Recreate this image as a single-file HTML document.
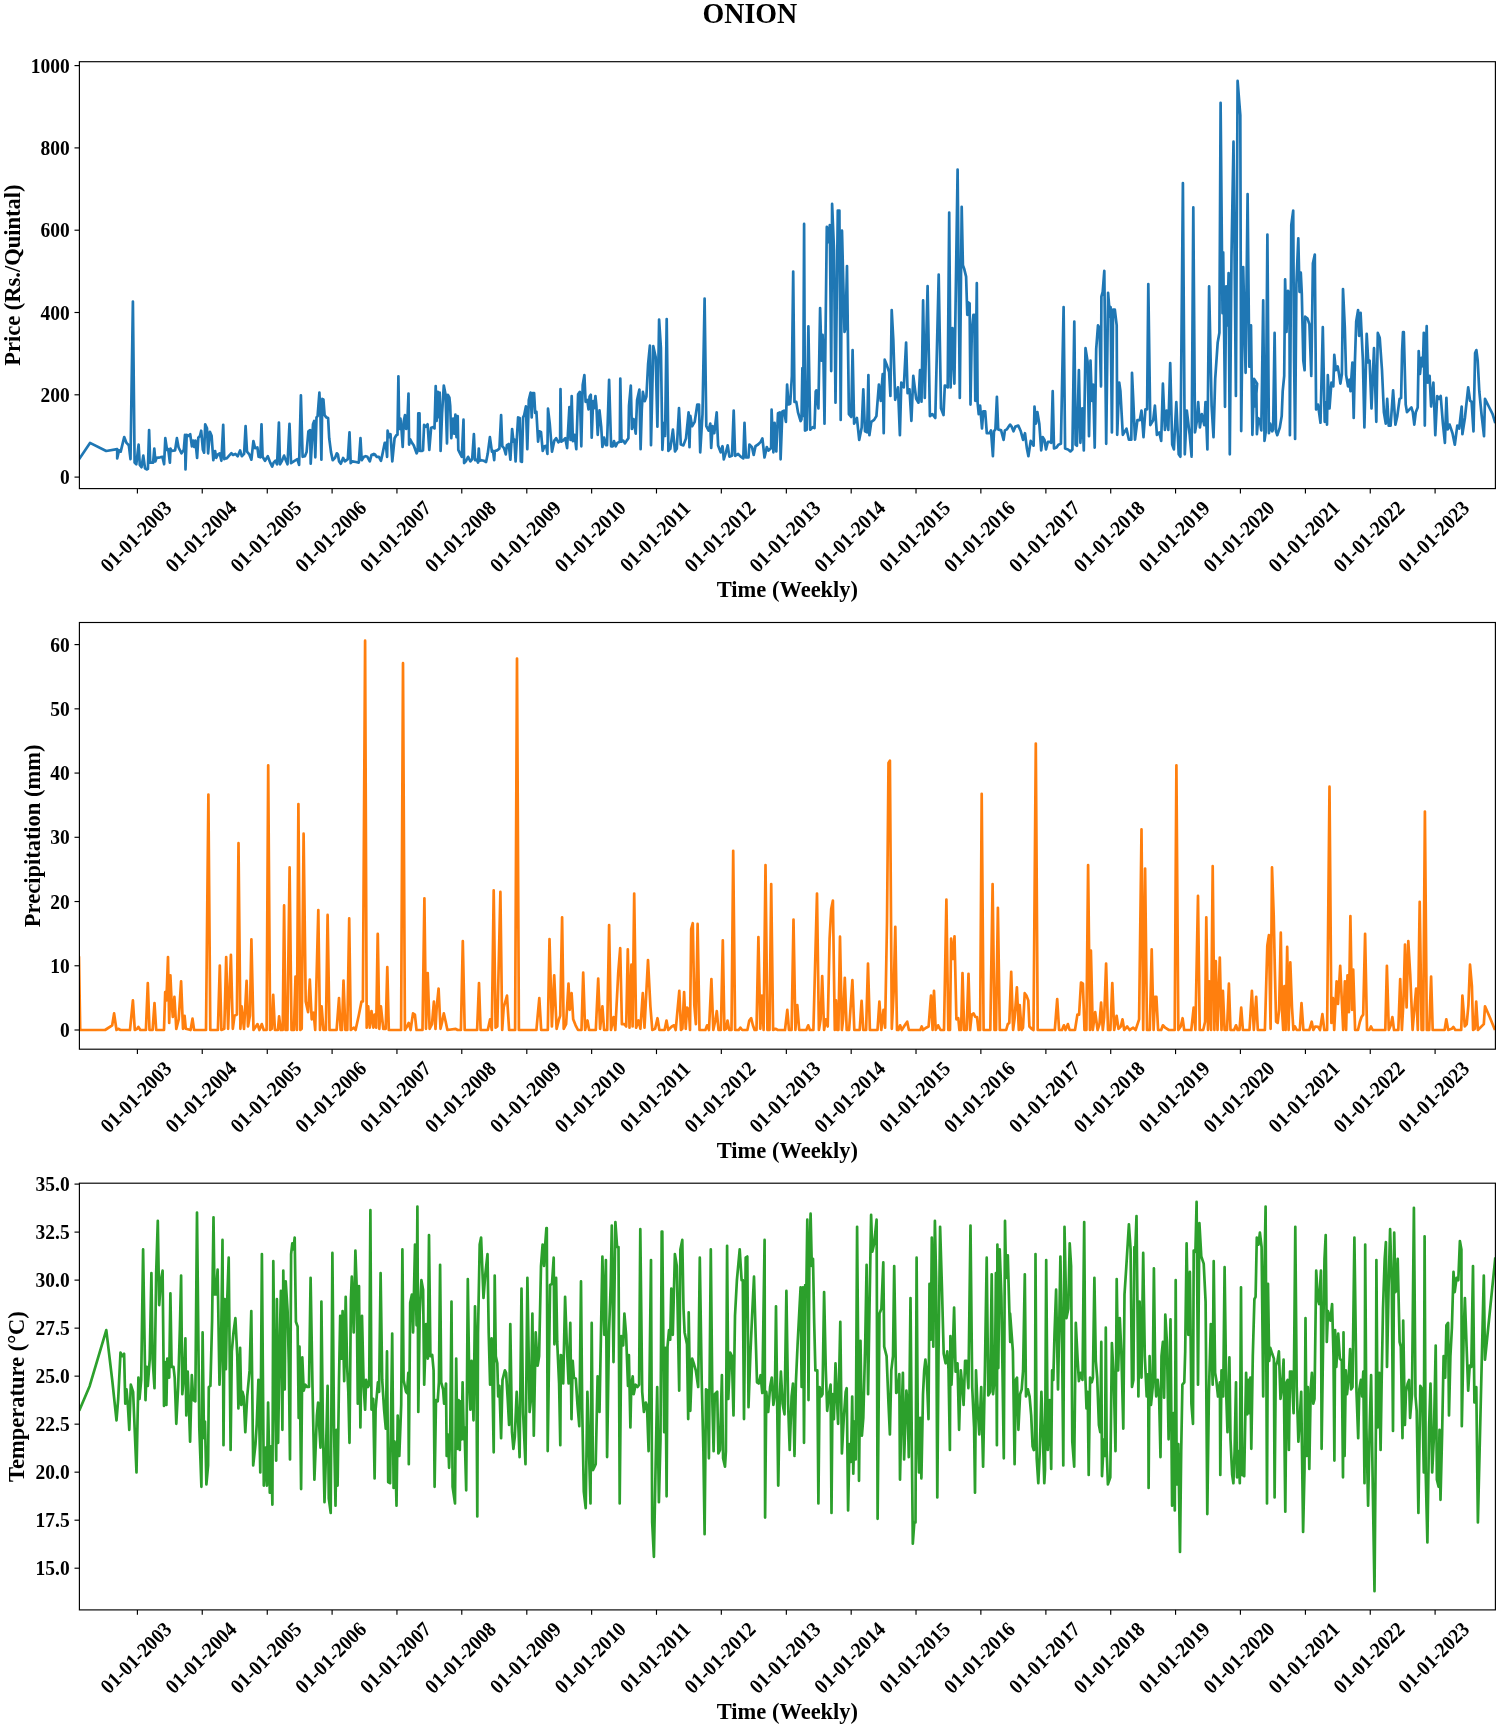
<!DOCTYPE html><html><head><meta charset="utf-8"><style>html,body{margin:0;padding:0;background:#fff;}svg{display:block;filter:blur(0.4px);}text{font-family:"Liberation Serif",serif;font-weight:bold;fill:#000;}</style></head><body>
<svg width="1499" height="1727" viewBox="0 0 1499 1727">
<rect x="0" y="0" width="1499" height="1727" fill="#fff"/>
<text transform="translate(749.9 22.8) scale(1 1.07)" font-size="28.0" text-anchor="middle">ONION</text>
<clipPath id="c0"><rect x="79.4" y="61.7" width="1416.0" height="426.90000000000003"/></clipPath>
<path d="M79.6,458.5 L90.0,442.9 L106.2,451.0 L117.2,449.2 L117.2,458.5 L119.0,450.4 L120.7,451.6 L124.2,437.1 L126.5,442.9 L128.8,445.2 L130.5,459.1 L132.9,301.6 L134.6,462.6 L136.3,464.3 L138.6,444.6 L139.8,464.9 L141.5,467.2 L143.3,455.6 L145.0,468.3 L146.7,469.5 L147.9,468.9 L149.1,430.1 L150.2,462.6 L153.1,462.6 L154.3,448.7 L155.4,461.4 L156.6,457.9 L160.1,457.3 L162.4,456.8 L164.1,464.3 L165.3,438.2 L167.0,449.8 L168.2,449.2 L169.9,462.6 L170.5,448.7 L171.6,451.0 L175.1,450.4 L176.9,438.2 L178.6,447.5 L181.5,453.3 L183.8,449.8 L185.0,434.8 L185.5,469.5 L186.7,434.8 L188.4,435.9 L190.2,434.2 L191.9,446.3 L193.1,440.6 L194.2,446.9 L195.4,440.6 L197.1,457.9 L198.3,437.7 L200.0,435.9 L201.2,430.7 L202.9,449.8 L204.1,452.7 L205.2,424.3 L207.0,428.4 L208.1,453.3 L209.9,431.9 L211.6,435.9 L213.3,460.2 L215.1,451.0 L216.2,457.9 L218.0,454.4 L219.7,453.3 L221.4,460.8 L223.2,424.9 L224.3,459.1 L226.7,457.9 L226.7,458.5 L229.1,455.6 L231.4,453.3 L233.1,455.0 L235.4,453.9 L237.7,456.2 L240.1,450.4 L241.8,456.2 L244.1,453.9 L245.6,426.1 L247.0,451.6 L249.3,454.4 L251.4,459.7 L253.4,441.1 L255.1,448.1 L257.4,447.5 L258.6,456.8 L260.3,457.3 L261.5,424.3 L262.6,456.8 L265.0,460.8 L267.8,456.2 L270.2,462.6 L272.2,466.6 L273.6,462.6 L275.4,460.8 L277.1,464.3 L278.9,422.6 L280.0,464.3 L281.7,461.4 L284.1,455.6 L285.8,460.2 L287.5,464.3 L289.5,423.8 L291.0,463.1 L294.5,460.8 L297.4,459.1 L299.1,464.9 L300.9,395.4 L302.6,456.8 L304.9,456.2 L306.6,452.1 L308.4,431.3 L310.1,430.1 L310.7,463.7 L313.0,424.3 L314.2,420.9 L315.3,457.3 L316.5,417.4 L317.6,416.2 L319.4,392.5 L320.5,417.4 L321.4,459.7 L322.3,398.9 L323.4,399.4 L324.6,415.1 L326.3,417.4 L328.1,418.0 L329.2,438.2 L331.0,452.1 L332.7,460.2 L335.0,457.9 L336.8,453.3 L337.9,454.4 L339.1,461.4 L340.8,463.7 L343.1,457.9 L344.9,461.4 L347.8,459.1 L349.5,432.4 L350.7,463.1 L352.4,461.4 L355.9,462.0 L358.8,462.6 L360.5,438.2 L361.7,460.2 L364.0,456.8 L365.7,456.2 L367.4,456.8 L369.8,461.4 L371.5,455.0 L373.8,453.9 L373.7,455.0 L374.9,454.4 L376.6,456.8 L378.9,456.8 L381.0,460.8 L382.4,454.4 L384.7,442.9 L385.7,442.9 L387.1,456.8 L387.6,430.7 L389.1,437.1 L390.5,434.2 L392.3,461.4 L394.6,438.2 L396.3,435.3 L397.5,434.8 L398.4,376.3 L399.2,429.0 L400.4,418.5 L401.5,429.0 L402.7,446.9 L403.8,420.9 L405.0,415.1 L406.2,429.0 L407.3,423.2 L408.5,393.6 L409.1,444.6 L410.2,439.4 L412.0,442.9 L413.7,445.2 L416.6,453.3 L417.7,451.0 L418.3,413.3 L419.5,413.3 L420.1,451.0 L421.8,451.0 L423.0,450.4 L424.1,424.9 L425.9,426.7 L427.6,424.3 L429.3,449.8 L431.1,427.8 L432.8,427.2 L434.5,428.4 L435.7,386.1 L436.6,420.9 L437.8,391.9 L439.2,417.4 L439.7,392.5 L440.6,451.0 L442.1,412.8 L443.8,385.5 L445.5,394.2 L447.0,443.4 L447.9,394.8 L449.4,397.7 L450.2,405.8 L451.3,438.2 L453.1,418.5 L454.2,433.6 L455.4,414.5 L456.5,437.1 L457.7,416.2 L458.3,449.8 L460.0,453.3 L461.8,456.8 L463.5,419.7 L464.1,463.1 L465.8,461.4 L468.1,456.8 L470.4,461.4 L472.2,459.1 L473.9,434.2 L475.1,460.2 L476.8,459.7 L478.0,462.6 L478.8,448.7 L479.7,460.8 L481.4,460.2 L483.8,460.8 L486.1,462.0 L487.8,453.3 L489.9,437.1 L491.9,451.6 L493.0,451.0 L494.2,460.2 L494.8,451.0 L497.1,450.4 L499.4,448.7 L501.1,415.1 L502.3,446.3 L504.0,448.1 L505.8,454.4 L506.9,445.2 L508.7,444.0 L510.4,459.7 L512.1,429.0 L513.5,441.7 L514.4,439.4 L515.6,461.4 L516.8,439.4 L518.1,417.4 L519.7,418.0 L520.8,461.4 L520.7,434.8 L521.9,462.0 L523.1,417.4 L524.2,415.1 L525.9,406.4 L527.3,449.2 L528.8,400.0 L530.6,392.5 L531.7,417.4 L532.7,393.1 L534.1,393.1 L535.2,412.8 L536.4,411.6 L538.1,441.7 L539.3,431.3 L541.0,431.9 L542.7,451.0 L544.5,446.3 L546.2,445.8 L547.4,453.9 L548.0,408.7 L549.7,423.2 L552.0,451.6 L554.3,440.6 L556.1,438.2 L558.4,442.3 L560.1,440.6 L560.5,389.0 L561.3,441.7 L563.0,440.6 L565.3,438.2 L567.1,448.1 L569.4,407.0 L570.5,440.0 L571.7,396.0 L572.9,441.1 L574.6,434.8 L576.3,449.2 L578.1,394.2 L579.8,391.9 L581.3,446.3 L582.7,385.0 L584.4,375.1 L585.6,401.8 L587.3,400.0 L588.5,409.3 L589.6,396.5 L590.8,394.8 L591.7,437.7 L593.1,401.2 L594.3,408.1 L595.4,396.0 L596.4,405.8 L597.7,434.8 L599.5,410.4 L601.2,426.7 L602.4,446.9 L604.1,437.7 L605.9,445.2 L607.0,445.2 L609.1,379.8 L611.1,446.3 L612.8,446.3 L614.0,441.1 L615.7,446.3 L617.4,442.9 L619.8,441.7 L620.3,378.6 L621.5,441.7 L623.2,440.6 L625.0,443.4 L626.7,440.6 L628.4,438.2 L629.0,405.8 L630.8,385.5 L631.9,429.0 L633.6,419.1 L635.7,433.6 L637.1,400.0 L639.4,389.6 L640.6,449.2 L641.8,409.3 L642.9,391.9 L644.7,401.2 L646.4,396.5 L648.1,364.1 L649.9,345.6 L651.0,445.2 L653.3,346.2 L655.7,357.2 L657.4,426.7 L659.1,319.5 L660.9,347.9 L662.4,449.8 L663.8,423.2 L665.1,435.9 L666.7,319.0 L668.4,451.0 L668.4,450.6 L670.3,448.8 L672.9,429.7 L675.0,451.4 L676.8,448.8 L679.0,408.0 L680.8,444.5 L683.4,445.4 L686.0,438.4 L688.6,412.4 L689.5,447.1 L690.3,415.8 L692.1,426.2 L694.7,421.9 L697.3,404.5 L699.0,404.5 L700.2,452.3 L702.5,414.1 L704.6,298.6 L706.3,426.2 L708.6,430.6 L710.3,423.6 L711.2,448.0 L712.6,426.2 L714.3,433.2 L716.7,412.4 L718.1,445.4 L720.7,452.3 L722.5,446.2 L723.8,459.3 L725.9,452.3 L727.7,445.4 L729.4,456.6 L732.0,455.8 L733.7,410.6 L735.1,455.8 L738.1,454.0 L740.7,456.6 L743.3,458.4 L744.5,422.8 L745.9,457.5 L748.5,457.5 L749.4,444.5 L752.0,447.1 L753.7,454.9 L755.5,446.2 L758.1,444.5 L760.7,441.9 L762.4,438.4 L764.5,457.5 L766.8,447.1 L768.5,450.6 L771.1,448.0 L771.6,409.7 L773.4,452.3 L774.6,422.8 L776.3,451.4 L778.0,413.2 L779.8,412.4 L780.6,459.3 L782.4,411.5 L784.1,410.6 L785.9,421.9 L787.1,384.6 L788.5,404.5 L790.2,403.7 L791.9,375.9 L793.2,271.6 L794.5,401.9 L796.3,401.9 L798.0,412.4 L800.6,421.0 L801.5,419.3 L802.4,368.1 L803.2,415.8 L804.1,223.9 L805.0,430.6 L806.7,429.7 L808.4,326.4 L810.2,429.7 L812.8,427.1 L814.5,428.0 L815.7,391.5 L816.4,390.3 L818.4,408.4 L820.1,308.1 L821.6,360.6 L822.6,334.8 L823.5,360.6 L824.5,423.7 L826.8,226.9 L828.3,242.2 L829.8,225.0 L831.2,371.1 L832.1,203.9 L834.0,249.8 L835.5,402.7 L837.8,210.6 L839.4,210.6 L840.7,419.9 L842.0,230.7 L844.5,332.0 L845.5,328.2 L847.0,266.1 L848.9,414.1 L851.2,417.0 L852.6,350.1 L854.1,423.7 L856.9,418.0 L859.2,439.9 L861.7,427.5 L863.3,389.3 L865.0,431.3 L867.1,432.3 L868.4,375.0 L869.4,435.2 L871.3,421.8 L874.1,419.9 L876.4,416.1 L878.9,384.5 L880.8,400.8 L882.7,374.0 L883.7,433.2 L884.7,359.7 L886.6,364.5 L889.1,372.1 L890.4,396.0 L891.7,310.0 L893.3,339.6 L895.2,399.8 L898.0,387.4 L899.9,435.2 L901.3,382.6 L903.8,387.4 L906.1,342.5 L907.6,393.1 L909.5,389.3 L911.4,420.8 L913.3,375.9 L916.2,398.9 L918.5,402.7 L920.0,370.2 L921.5,401.7 L923.1,300.4 L924.8,397.9 L927.6,286.1 L929.9,416.1 L932.4,414.1 L935.3,418.0 L938.7,274.6 L941.0,408.4 L943.5,415.1 L944.8,385.5 L947.7,387.4 L949.2,212.5 L950.6,387.4 L952.5,328.2 L954.4,383.6 L957.6,169.6 L959.8,397.9 L961.7,206.8 L962.9,265.1 L964.2,268.9 L966.1,276.6 L967.3,314.8 L968.2,302.4 L969.6,303.3 L970.5,404.6 L971.8,332.0 L973.4,314.8 L974.3,314.8 L975.3,400.8 L976.8,283.2 L977.6,402.7 L978.7,414.1 L980.1,405.5 L982.0,428.5 L983.3,411.3 L985.2,411.3 L986.8,433.2 L989.6,433.2 L991.0,430.4 L992.9,456.2 L994.0,431.3 L995.4,429.4 L996.9,396.9 L998.2,429.4 L1001.1,430.4 L1003.6,439.9 L1004.9,430.4 L1006.8,429.4 L1008.7,426.6 L1010.1,424.6 L1011.6,426.6 L1013.5,431.3 L1015.4,426.6 L1018.3,425.6 L1020.8,431.3 L1023.1,439.9 L1025.0,433.2 L1026.9,448.5 L1028.4,456.2 L1030.7,440.9 L1033.6,445.7 L1034.5,406.5 L1035.9,423.7 L1037.4,412.2 L1039.3,423.7 L1041.2,450.4 L1042.7,437.1 L1044.5,439.9 L1046.0,449.5 L1047.9,441.8 L1049.8,441.8 L1051.3,442.8 L1052.7,391.2 L1054.0,448.5 L1056.5,447.6 L1058.4,444.7 L1060.9,443.8 L1063.6,307.1 L1065.1,448.5 L1068.0,449.5 L1070.4,451.4 L1072.4,449.5 L1074.3,321.5 L1075.6,444.7 L1076.9,445.7 L1078.9,370.2 L1080.4,442.8 L1082.3,408.4 L1083.8,450.4 L1085.5,348.2 L1087.6,361.6 L1089.0,436.1 L1090.5,360.6 L1091.8,400.8 L1093.2,384.5 L1094.7,447.6 L1096.2,349.2 L1098.0,325.3 L1099.5,328.2 L1101.0,386.4 L1101.4,296.6 L1102.7,291.8 L1104.3,270.8 L1106.2,443.8 L1108.1,292.8 L1110.0,316.7 L1109.9,315.6 L1110.6,307.1 L1111.9,432.4 L1113.1,309.5 L1114.8,309.5 L1116.7,325.4 L1117.2,434.8 L1119.2,382.5 L1120.4,391.0 L1122.8,434.8 L1126.5,428.7 L1128.9,439.7 L1131.3,439.7 L1132.0,372.8 L1133.3,400.7 L1135.0,439.7 L1137.4,420.2 L1139.8,420.2 L1141.5,410.5 L1143.5,437.2 L1145.4,409.3 L1147.1,409.3 L1148.3,284.0 L1150.3,425.1 L1153.2,420.2 L1154.9,405.6 L1156.9,434.8 L1159.3,432.4 L1161.2,440.9 L1162.9,383.7 L1164.9,429.9 L1166.6,410.5 L1168.3,429.9 L1170.2,363.1 L1172.2,444.5 L1173.9,449.4 L1176.3,402.0 L1178.7,454.3 L1180.4,456.7 L1182.9,183.1 L1184.8,454.3 L1186.8,410.5 L1189.7,434.8 L1191.6,456.7 L1193.3,207.4 L1195.0,432.4 L1197.0,420.2 L1198.2,402.0 L1199.9,427.5 L1201.8,414.1 L1204.3,425.1 L1205.5,402.0 L1207.4,449.4 L1209.1,286.4 L1211.6,405.6 L1213.5,437.2 L1215.2,378.9 L1217.7,342.4 L1219.4,332.7 L1220.6,102.8 L1222.5,313.2 L1223.2,252.4 L1225.0,406.8 L1226.2,286.4 L1227.4,325.4 L1228.6,273.1 L1229.8,454.3 L1231.5,254.8 L1233.5,141.7 L1235.9,395.9 L1237.6,80.9 L1240.3,115.0 L1241.2,431.1 L1243.2,267.0 L1245.6,372.8 L1247.6,194.0 L1249.3,366.7 L1251.0,325.4 L1252.4,434.8 L1254.1,378.9 L1257.1,383.7 L1255.5,406.5 L1256.3,385.5 L1256.9,434.2 L1258.2,418.0 L1259.7,419.9 L1261.3,430.4 L1263.2,300.4 L1264.5,440.9 L1265.8,431.3 L1267.4,234.5 L1268.9,433.2 L1270.2,423.7 L1272.2,431.3 L1273.1,429.4 L1274.6,332.9 L1276.0,431.3 L1277.3,435.2 L1279.8,427.5 L1281.7,416.1 L1282.7,391.2 L1284.2,375.9 L1285.1,279.4 L1286.5,332.0 L1288.0,290.9 L1289.4,293.8 L1289.9,435.2 L1291.3,225.0 L1293.2,210.6 L1294.1,360.6 L1295.1,439.0 L1296.4,284.2 L1298.3,238.3 L1299.5,291.8 L1300.8,272.7 L1301.8,293.8 L1303.3,360.6 L1304.6,370.2 L1305.2,316.7 L1307.5,318.6 L1309.4,324.3 L1311.3,375.9 L1312.9,263.2 L1314.8,254.6 L1316.1,409.4 L1318.0,404.6 L1320.5,422.7 L1322.8,327.2 L1324.7,421.8 L1325.7,402.7 L1327.0,424.6 L1327.8,375.0 L1329.5,408.4 L1331.4,382.6 L1333.3,386.4 L1334.3,354.9 L1335.8,370.2 L1337.7,366.4 L1339.0,374.0 L1340.4,383.6 L1341.9,374.0 L1343.0,289.0 L1344.8,327.2 L1346.1,375.0 L1348.0,386.4 L1349.5,379.7 L1350.5,391.2 L1352.4,362.5 L1353.7,418.0 L1354.9,362.5 L1356.2,321.5 L1358.1,310.0 L1359.1,335.8 L1360.6,312.9 L1362.9,360.6 L1364.4,427.5 L1366.7,333.9 L1368.3,362.5 L1369.6,360.6 L1371.5,408.4 L1374.0,348.2 L1376.3,421.8 L1377.8,332.9 L1379.7,337.7 L1382.0,370.2 L1383.9,412.2 L1385.8,423.7 L1387.2,398.9 L1388.7,425.6 L1390.6,425.6 L1393.1,390.3 L1395.4,424.6 L1397.3,416.1 L1399.6,398.9 L1401.1,397.9 L1402.1,351.1 L1403.0,332.0 L1403.8,332.0 L1405.7,404.6 L1407.0,412.2 L1409.5,409.4 L1411.4,407.5 L1412.8,412.2 L1414.3,424.6 L1415.8,412.2 L1417.7,407.5 L1418.7,351.1 L1420.0,374.0 L1421.5,357.8 L1422.9,366.4 L1423.8,332.9 L1424.8,425.6 L1425.8,351.1 L1426.7,326.2 L1427.7,382.6 L1429.6,375.9 L1431.1,406.5 L1433.4,382.6 L1435.3,435.2 L1437.2,396.0 L1439.1,398.9 L1440.7,396.0 L1442.9,423.7 L1444.9,442.8 L1446.4,397.9 L1447.7,429.4 L1449.6,424.6 L1452.5,433.2 L1454.8,444.7 L1457.3,425.6 L1459.2,428.5 L1461.7,406.5 L1462.4,434.2 L1464.9,418.0 L1468.2,387.4 L1470.1,400.8 L1471.6,401.7 L1473.5,431.3 L1475.1,353.0 L1476.4,350.1 L1477.7,360.6 L1479.3,391.2 L1481.5,414.1 L1484.0,436.1 L1485.0,398.9 L1488.8,406.5 L1492.6,414.1 L1494.9,421.8" fill="none" stroke="#1f77b4" stroke-width="2.7" stroke-linejoin="round" stroke-linecap="square" clip-path="url(#c0)"/>
<rect x="79.4" y="61.7" width="1416.0" height="426.90000000000003" fill="none" stroke="#000" stroke-width="1.15"/>
<line x1="74.5" y1="477.10" x2="79.4" y2="477.10" stroke="#000" stroke-width="1.15"/>
<text transform="translate(69.60 484.10) scale(1 1.07)" font-size="19.44" text-anchor="end">0</text>
<line x1="74.5" y1="394.80" x2="79.4" y2="394.80" stroke="#000" stroke-width="1.15"/>
<text transform="translate(69.60 401.80) scale(1 1.07)" font-size="19.44" text-anchor="end">200</text>
<line x1="74.5" y1="312.50" x2="79.4" y2="312.50" stroke="#000" stroke-width="1.15"/>
<text transform="translate(69.60 319.50) scale(1 1.07)" font-size="19.44" text-anchor="end">400</text>
<line x1="74.5" y1="230.20" x2="79.4" y2="230.20" stroke="#000" stroke-width="1.15"/>
<text transform="translate(69.60 237.20) scale(1 1.07)" font-size="19.44" text-anchor="end">600</text>
<line x1="74.5" y1="147.90" x2="79.4" y2="147.90" stroke="#000" stroke-width="1.15"/>
<text transform="translate(69.60 154.90) scale(1 1.07)" font-size="19.44" text-anchor="end">800</text>
<line x1="74.5" y1="65.60" x2="79.4" y2="65.60" stroke="#000" stroke-width="1.15"/>
<text transform="translate(69.60 72.60) scale(1 1.07)" font-size="19.44" text-anchor="end">1000</text>
<line x1="137.40" y1="488.6" x2="137.40" y2="493.5" stroke="#000" stroke-width="1.15"/>
<text transform="translate(135.90 536.40) rotate(-45) translate(0 7.0) scale(1 1.07)" font-size="19.44" text-anchor="middle">01-01-2003</text>
<line x1="202.24" y1="488.6" x2="202.24" y2="493.5" stroke="#000" stroke-width="1.15"/>
<text transform="translate(200.74 536.40) rotate(-45) translate(0 7.0) scale(1 1.07)" font-size="19.44" text-anchor="middle">01-01-2004</text>
<line x1="267.26" y1="488.6" x2="267.26" y2="493.5" stroke="#000" stroke-width="1.15"/>
<text transform="translate(265.76 536.40) rotate(-45) translate(0 7.0) scale(1 1.07)" font-size="19.44" text-anchor="middle">01-01-2005</text>
<line x1="332.10" y1="488.6" x2="332.10" y2="493.5" stroke="#000" stroke-width="1.15"/>
<text transform="translate(330.60 536.40) rotate(-45) translate(0 7.0) scale(1 1.07)" font-size="19.44" text-anchor="middle">01-01-2006</text>
<line x1="396.94" y1="488.6" x2="396.94" y2="493.5" stroke="#000" stroke-width="1.15"/>
<text transform="translate(395.44 536.40) rotate(-45) translate(0 7.0) scale(1 1.07)" font-size="19.44" text-anchor="middle">01-01-2007</text>
<line x1="461.78" y1="488.6" x2="461.78" y2="493.5" stroke="#000" stroke-width="1.15"/>
<text transform="translate(460.28 536.40) rotate(-45) translate(0 7.0) scale(1 1.07)" font-size="19.44" text-anchor="middle">01-01-2008</text>
<line x1="526.80" y1="488.6" x2="526.80" y2="493.5" stroke="#000" stroke-width="1.15"/>
<text transform="translate(525.30 536.40) rotate(-45) translate(0 7.0) scale(1 1.07)" font-size="19.44" text-anchor="middle">01-01-2009</text>
<line x1="591.64" y1="488.6" x2="591.64" y2="493.5" stroke="#000" stroke-width="1.15"/>
<text transform="translate(590.14 536.40) rotate(-45) translate(0 7.0) scale(1 1.07)" font-size="19.44" text-anchor="middle">01-01-2010</text>
<line x1="656.48" y1="488.6" x2="656.48" y2="493.5" stroke="#000" stroke-width="1.15"/>
<text transform="translate(654.98 536.40) rotate(-45) translate(0 7.0) scale(1 1.07)" font-size="19.44" text-anchor="middle">01-01-2011</text>
<line x1="721.32" y1="488.6" x2="721.32" y2="493.5" stroke="#000" stroke-width="1.15"/>
<text transform="translate(719.82 536.40) rotate(-45) translate(0 7.0) scale(1 1.07)" font-size="19.44" text-anchor="middle">01-01-2012</text>
<line x1="786.34" y1="488.6" x2="786.34" y2="493.5" stroke="#000" stroke-width="1.15"/>
<text transform="translate(784.84 536.40) rotate(-45) translate(0 7.0) scale(1 1.07)" font-size="19.44" text-anchor="middle">01-01-2013</text>
<line x1="851.18" y1="488.6" x2="851.18" y2="493.5" stroke="#000" stroke-width="1.15"/>
<text transform="translate(849.68 536.40) rotate(-45) translate(0 7.0) scale(1 1.07)" font-size="19.44" text-anchor="middle">01-01-2014</text>
<line x1="916.02" y1="488.6" x2="916.02" y2="493.5" stroke="#000" stroke-width="1.15"/>
<text transform="translate(914.52 536.40) rotate(-45) translate(0 7.0) scale(1 1.07)" font-size="19.44" text-anchor="middle">01-01-2015</text>
<line x1="980.86" y1="488.6" x2="980.86" y2="493.5" stroke="#000" stroke-width="1.15"/>
<text transform="translate(979.36 536.40) rotate(-45) translate(0 7.0) scale(1 1.07)" font-size="19.44" text-anchor="middle">01-01-2016</text>
<line x1="1045.88" y1="488.6" x2="1045.88" y2="493.5" stroke="#000" stroke-width="1.15"/>
<text transform="translate(1044.38 536.40) rotate(-45) translate(0 7.0) scale(1 1.07)" font-size="19.44" text-anchor="middle">01-01-2017</text>
<line x1="1110.72" y1="488.6" x2="1110.72" y2="493.5" stroke="#000" stroke-width="1.15"/>
<text transform="translate(1109.22 536.40) rotate(-45) translate(0 7.0) scale(1 1.07)" font-size="19.44" text-anchor="middle">01-01-2018</text>
<line x1="1175.56" y1="488.6" x2="1175.56" y2="493.5" stroke="#000" stroke-width="1.15"/>
<text transform="translate(1174.06 536.40) rotate(-45) translate(0 7.0) scale(1 1.07)" font-size="19.44" text-anchor="middle">01-01-2019</text>
<line x1="1240.40" y1="488.6" x2="1240.40" y2="493.5" stroke="#000" stroke-width="1.15"/>
<text transform="translate(1238.90 536.40) rotate(-45) translate(0 7.0) scale(1 1.07)" font-size="19.44" text-anchor="middle">01-01-2020</text>
<line x1="1305.42" y1="488.6" x2="1305.42" y2="493.5" stroke="#000" stroke-width="1.15"/>
<text transform="translate(1303.92 536.40) rotate(-45) translate(0 7.0) scale(1 1.07)" font-size="19.44" text-anchor="middle">01-01-2021</text>
<line x1="1370.26" y1="488.6" x2="1370.26" y2="493.5" stroke="#000" stroke-width="1.15"/>
<text transform="translate(1368.76 536.40) rotate(-45) translate(0 7.0) scale(1 1.07)" font-size="19.44" text-anchor="middle">01-01-2022</text>
<line x1="1435.10" y1="488.6" x2="1435.10" y2="493.5" stroke="#000" stroke-width="1.15"/>
<text transform="translate(1433.60 536.40) rotate(-45) translate(0 7.0) scale(1 1.07)" font-size="19.44" text-anchor="middle">01-01-2023</text>
<text transform="translate(787.4 597.20) scale(1 1.07)" font-size="22.5" text-anchor="middle">Time (Weekly)</text>
<text transform="translate(19.5 275.15) rotate(-90) scale(1 1.07)" font-size="22.5" text-anchor="middle">Price (Rs./Quintal)</text>
<clipPath id="c1"><rect x="79.4" y="622.5" width="1416.0" height="426.70000000000005"/></clipPath>
<path d="M79.0,957.6 L80.2,1030.0 L105.1,1030.0 L112.2,1025.3 L114.1,1013.4 L116.5,1030.0 L118.2,1028.8 L120.5,1030.0 L130.0,1030.0 L132.9,1000.4 L134.8,1030.0 L137.2,1028.8 L138.4,1026.9 L140.3,1030.0 L145.9,1030.0 L147.8,983.0 L149.5,1030.0 L152.6,1030.0 L154.5,1003.2 L156.2,1030.0 L164.0,1030.0 L165.2,992.0 L166.4,1000.4 L168.0,957.1 L169.2,1022.9 L170.4,975.4 L171.6,1001.5 L172.8,1017.0 L174.4,996.8 L176.3,1028.8 L178.7,1019.3 L181.1,981.4 L183.0,1028.8 L184.6,1015.8 L185.8,1028.8 L190.6,1030.0 L192.5,1018.6 L194.1,1030.0 L206.0,1030.0 L208.4,794.5 L210.3,1030.0 L217.9,1030.0 L219.8,965.5 L221.4,1030.0 L224.3,1028.8 L226.2,957.1 L228.1,1028.8 L229.8,983.7 L230.9,954.8 L232.8,1028.8 L234.5,1015.8 L236.9,1014.6 L238.5,843.2 L240.4,1028.8 L241.6,1006.3 L244.0,1028.8 L245.2,1008.7 L246.6,980.9 L248.0,1026.5 L249.9,1015.8 L251.4,939.3 L253.5,1030.0 L255.9,1026.5 L257.5,1024.1 L259.4,1030.0 L261.8,1024.1 L263.7,1030.0 L266.6,1030.0 L268.2,765.3 L270.1,1030.0 L271.8,1028.8 L273.2,994.9 L274.9,1030.0 L277.9,1030.0 L279.1,1016.3 L280.8,1030.0 L282.7,1030.0 L284.1,905.4 L285.5,1030.0 L287.4,1030.0 L289.6,867.4 L291.5,1030.0 L293.9,1030.0 L295.5,976.6 L296.9,1030.0 L298.4,804.0 L300.3,1030.0 L301.7,1028.8 L303.6,833.7 L305.7,1001.5 L308.1,1012.2 L309.8,979.5 L311.7,1019.3 L313.6,1012.7 L315.2,1030.0 L318.3,910.1 L320.0,1030.0 L321.6,1006.3 L323.5,1030.0 L325.9,1030.0 L327.6,914.9 L329.5,1030.0 L336.6,1030.0 L339.0,998.0 L340.6,1030.0 L342.0,1030.0 L343.5,980.6 L345.4,1030.0 L347.3,1030.0 L349.2,918.4 L350.8,1030.0 L353.9,1027.7 L355.6,1030.0 L358.7,1015.8 L361.5,1001.5 L362.9,1001.5 L365.1,640.7 L366.7,1027.7 L368.2,1006.3 L369.8,1027.7 L371.5,1011.0 L373.4,1027.7 L374.6,1014.6 L376.2,1027.7 L377.7,933.9 L377.8,933.9 L379.3,1028.8 L380.9,1006.3 L383.3,1028.8 L385.7,1028.8 L387.3,967.1 L388.8,1030.0 L401.1,1030.0 L403.0,663.2 L404.9,1030.0 L407.0,1026.5 L408.7,1022.9 L410.6,1030.0 L413.0,1013.4 L414.9,1014.6 L416.5,1030.0 L422.5,1030.0 L424.4,898.3 L426.0,1028.8 L427.7,973.1 L429.6,1028.8 L432.0,1024.1 L433.9,1001.5 L435.5,1028.8 L436.7,1007.5 L438.6,988.5 L440.5,1028.8 L441.9,1022.9 L443.8,1013.4 L445.7,1021.7 L447.4,1030.0 L455.7,1028.8 L457.6,1030.0 L460.9,1030.0 L462.8,941.0 L464.7,1030.0 L477.1,1030.0 L479.0,983.0 L480.6,1030.0 L487.8,1030.0 L490.1,1019.3 L491.8,1030.0 L493.7,890.4 L495.6,1027.7 L497.3,1026.5 L500.4,891.9 L502.2,1030.0 L503.7,1007.5 L507.0,995.6 L509.1,1030.0 L515.1,1030.0 L517.0,658.5 L518.9,1030.0 L536.4,1030.0 L539.3,998.0 L541.2,1030.0 L547.8,1030.0 L549.5,939.1 L551.9,1026.5 L554.2,975.4 L556.6,1028.8 L559.0,1019.3 L560.2,1015.8 L562.1,917.3 L563.7,1028.8 L566.1,1024.1 L568.5,983.7 L569.7,1009.8 L571.6,993.2 L573.2,1019.3 L575.6,1025.3 L578.0,1030.0 L581.5,1030.0 L583.2,972.6 L585.1,1030.0 L587.5,1020.5 L589.1,1030.0 L595.8,1030.0 L598.2,978.5 L600.1,1028.8 L602.4,1006.3 L604.1,1030.0 L607.2,1030.0 L609.1,925.1 L611.0,1030.0 L613.6,1017.0 L615.3,1030.0 L618.3,971.9 L620.2,948.1 L621.9,1024.1 L624.3,1024.1 L626.2,1026.5 L627.8,949.3 L629.5,1027.7 L631.4,964.7 L632.6,1026.5 L634.2,893.5 L636.1,1027.7 L638.5,1020.5 L640.4,1028.8 L642.8,993.2 L644.5,1027.7 L648.0,960.0 L650.4,1006.3 L652.3,1030.0 L655.1,1028.8 L657.5,1018.2 L659.4,1030.0 L664.6,1030.0 L666.5,1020.5 L668.2,1030.0 L671.8,1026.5 L674.1,1025.3 L675.7,1030.0 L679.3,990.9 L681.0,1030.0 L682.4,1028.8 L684.1,992.0 L685.7,1028.8 L687.1,1007.5 L688.8,1009.8 L690.0,1030.0 L691.2,929.1 L692.8,923.2 L694.3,1005.1 L695.9,1024.1 L697.6,923.9 L699.5,1030.0 L705.4,1030.0 L707.1,1025.3 L709.0,1030.0 L711.4,979.0 L713.3,1030.0 L715.6,1019.3 L716.8,1011.0 L718.5,1030.0 L720.9,1030.0 L722.8,940.3 L724.4,1030.0 L726.1,1028.8 L727.5,1020.5 L729.2,1030.0 L731.5,1030.0 L733.2,850.8 L735.1,1030.0 L738.7,1030.0 L740.3,1027.7 L742.2,1030.0 L747.4,1030.0 L749.3,1020.5 L751.2,1018.2 L752.9,1025.3 L754.6,1030.0 L756.5,1030.0 L758.4,937.0 L760.3,1028.8 L761.9,995.6 L763.6,1030.0 L765.5,865.0 L767.4,1030.0 L769.5,1030.0 L771.2,884.0 L773.1,1030.0 L775.5,1028.8 L777.8,1030.0 L785.0,1030.0 L787.3,1009.8 L789.0,1030.0 L791.6,1030.0 L793.5,919.6 L795.4,1030.0 L797.3,1005.1 L799.2,1030.0 L806.3,1030.0 L808.2,1025.3 L809.9,1030.0 L813.4,1030.0 L817.0,893.5 L818.9,1030.0 L820.6,1019.3 L822.2,976.1 L824.1,1030.0 L825.8,1019.3 L827.7,1026.5 L829.6,938.6 L831.2,909.0 L832.9,900.6 L834.8,1030.0 L836.0,1000.4 L837.2,1030.0 L838.4,1030.0 L840.0,936.7 L841.9,1030.0 L843.1,1019.3 L844.8,977.8 L846.7,1030.0 L849.1,1030.0 L852.4,980.2 L854.3,1030.0 L859.7,1030.0 L861.6,1000.8 L863.3,1030.0 L866.1,1030.0 L868.0,963.6 L869.9,1030.0 L877.5,1030.0 L879.4,1001.5 L881.3,1030.0 L883.5,1009.8 L885.1,1027.7 L887.0,922.0 L888.5,762.9 L889.9,760.6 L891.8,1028.8 L893.7,990.9 L895.3,926.8 L897.0,1030.0 L898.4,1030.0 L900.1,1025.3 L901.8,1030.0 L904.8,1025.3 L907.2,1021.7 L908.9,1030.0 L920.3,1030.0 L921.7,1026.5 L923.1,1030.0 L926.2,1027.7 L928.6,1026.5 L931.0,995.6 L932.6,1030.0 L934.0,990.9 L935.7,1030.0 L938.1,1025.3 L940.5,1030.0 L944.0,1030.0 L946.4,899.5 L948.3,1030.0 L950.0,1030.0 L951.1,938.6 L953.0,958.8 L954.5,936.3 L956.4,1019.3 L958.3,1018.2 L959.4,1030.0 L961.1,1030.0 L962.5,973.1 L964.2,1030.0 L966.6,1030.0 L968.5,973.8 L970.1,1030.0 L971.7,1014.6 L973.6,1013.4 L975.3,1017.0 L977.0,1017.0 L978.4,1030.0 L980.1,1030.0 L981.7,793.8 L983.6,1030.0 L990.3,1030.0 L992.6,884.0 L994.5,1030.0 L996.0,1030.0 L997.9,907.8 L999.8,1030.0 L1006.2,1030.0 L1007.8,1024.1 L1009.3,1022.9 L1011.2,971.9 L1013.1,1030.0 L1014.5,1019.3 L1016.9,987.3 L1018.8,1030.0 L1019.7,1005.1 L1021.6,1030.0 L1023.0,1027.7 L1024.7,993.2 L1026.4,995.6 L1028.3,1000.4 L1029.4,1026.5 L1031.6,1028.8 L1033.5,1030.0 L1035.8,743.5 L1037.7,1030.0 L1054.8,1030.0 L1057.2,999.2 L1059.1,1030.0 L1062.0,1030.0 L1063.9,1025.3 L1065.5,1030.0 L1067.9,1024.1 L1069.6,1030.0 L1075.0,1030.0 L1077.4,1014.6 L1079.1,1014.6 L1081.0,982.5 L1082.9,983.7 L1084.5,1030.0 L1086.4,1030.0 L1088.1,865.0 L1090.0,1030.0 L1090.9,950.5 L1092.8,1030.0 L1095.2,1012.2 L1097.6,1030.0 L1099.5,1024.1 L1101.1,1002.7 L1102.8,1030.0 L1104.2,1017.0 L1106.1,963.6 L1108.0,1030.0 L1110.4,1030.0 L1112.3,983.0 L1114.2,1030.0 L1116.6,1015.8 L1118.5,1028.8 L1120.8,1026.5 L1122.5,1019.3 L1124.2,1030.0 L1127.2,1026.5 L1129.6,1030.0 L1133.2,1027.7 L1135.6,1030.0 L1139.1,1019.3 L1141.5,829.4 L1143.2,1030.0 L1145.1,868.6 L1147.0,1030.0 L1149.8,1030.0 L1151.7,949.3 L1153.6,1030.0 L1155.0,996.8 L1156.4,996.8 L1158.1,1030.0 L1161.2,1030.0 L1162.9,1025.3 L1165.2,1027.7 L1168.8,1030.0 L1174.7,1030.0 L1176.4,765.3 L1178.3,1030.0 L1180.7,1026.5 L1182.6,1018.2 L1184.2,1030.0 L1191.3,1030.0 L1193.7,1007.5 L1195.4,1030.0 L1198.0,895.9 L1199.7,1030.0 L1203.2,1030.0 L1205.1,1021.7 L1206.3,917.3 L1208.0,1030.0 L1209.2,981.4 L1211.1,1030.0 L1212.7,866.2 L1214.4,1030.0 L1215.8,961.2 L1217.5,1030.0 L1219.8,957.6 L1221.5,1030.0 L1222.9,990.9 L1224.6,1030.0 L1227.0,1030.0 L1228.9,983.7 L1230.5,1030.0 L1234.1,1030.0 L1236.0,1025.3 L1237.6,1030.0 L1239.5,1030.0 L1241.2,1007.5 L1242.9,1030.0 L1249.5,1030.0 L1251.9,990.9 L1253.8,1030.0 L1256.2,996.8 L1257.8,1030.0 L1264.9,1030.0 L1264.9,1030.0 L1267.3,945.7 L1268.9,935.1 L1270.6,1028.8 L1272.0,867.4 L1273.7,914.9 L1274.9,971.9 L1276.1,1021.7 L1277.7,1022.9 L1279.1,1009.8 L1280.8,932.7 L1282.0,1009.8 L1283.2,1030.0 L1284.4,986.1 L1285.6,1030.0 L1287.2,946.9 L1288.6,1030.0 L1290.3,962.4 L1292.0,1007.5 L1293.4,1030.0 L1295.0,1026.5 L1296.7,1030.0 L1299.8,1030.0 L1301.5,1003.2 L1303.4,1030.0 L1309.3,1030.0 L1311.7,1021.7 L1313.3,1030.0 L1315.2,1026.5 L1318.1,1026.9 L1320.0,1030.0 L1322.4,1014.1 L1324.3,1030.0 L1327.1,1030.0 L1329.5,786.7 L1331.4,1022.9 L1333.0,998.0 L1334.2,1030.0 L1336.6,981.4 L1338.0,1003.9 L1340.2,965.9 L1341.8,1000.4 L1343.2,1030.0 L1344.9,981.4 L1346.1,1030.0 L1347.5,975.4 L1348.9,1012.2 L1350.4,916.1 L1352.0,1009.8 L1353.2,969.5 L1355.1,1030.0 L1358.0,1030.0 L1359.9,1021.7 L1361.5,1017.0 L1363.2,1014.6 L1365.1,933.9 L1367.0,1030.0 L1369.4,1030.0 L1371.0,1026.5 L1372.7,1030.0 L1385.3,1030.0 L1386.9,965.9 L1388.8,1030.0 L1390.7,1025.3 L1392.4,1017.0 L1394.0,1030.0 L1398.3,1030.0 L1400.2,979.0 L1401.9,1030.0 L1403.5,1000.4 L1405.0,944.6 L1406.6,1007.5 L1408.3,941.0 L1410.2,974.2 L1412.6,1030.0 L1416.1,988.5 L1417.8,1030.0 L1419.7,901.8 L1421.6,1030.0 L1423.2,1030.0 L1424.9,811.6 L1426.8,1030.0 L1429.2,1030.0 L1431.1,976.6 L1432.7,1030.0 L1444.6,1030.0 L1446.3,1019.3 L1448.2,1030.0 L1451.7,1028.8 L1453.4,1026.9 L1455.3,1030.0 L1461.2,1030.0 L1462.4,995.6 L1464.8,1026.5 L1466.7,1024.1 L1468.4,1005.1 L1470.0,964.7 L1471.9,986.1 L1473.1,1030.0 L1474.8,1028.8 L1476.2,1001.5 L1477.9,1030.0 L1483.8,1024.1 L1485.0,1006.3 L1489.7,1017.0 L1494.5,1028.8" fill="none" stroke="#ff7f0e" stroke-width="2.7" stroke-linejoin="round" stroke-linecap="square" clip-path="url(#c1)"/>
<rect x="79.4" y="622.5" width="1416.0" height="426.70000000000005" fill="none" stroke="#000" stroke-width="1.15"/>
<line x1="74.5" y1="1030.00" x2="79.4" y2="1030.00" stroke="#000" stroke-width="1.15"/>
<text transform="translate(69.60 1037.00) scale(1 1.07)" font-size="19.44" text-anchor="end">0</text>
<line x1="74.5" y1="965.77" x2="79.4" y2="965.77" stroke="#000" stroke-width="1.15"/>
<text transform="translate(69.60 972.77) scale(1 1.07)" font-size="19.44" text-anchor="end">10</text>
<line x1="74.5" y1="901.53" x2="79.4" y2="901.53" stroke="#000" stroke-width="1.15"/>
<text transform="translate(69.60 908.53) scale(1 1.07)" font-size="19.44" text-anchor="end">20</text>
<line x1="74.5" y1="837.30" x2="79.4" y2="837.30" stroke="#000" stroke-width="1.15"/>
<text transform="translate(69.60 844.30) scale(1 1.07)" font-size="19.44" text-anchor="end">30</text>
<line x1="74.5" y1="773.07" x2="79.4" y2="773.07" stroke="#000" stroke-width="1.15"/>
<text transform="translate(69.60 780.07) scale(1 1.07)" font-size="19.44" text-anchor="end">40</text>
<line x1="74.5" y1="708.84" x2="79.4" y2="708.84" stroke="#000" stroke-width="1.15"/>
<text transform="translate(69.60 715.84) scale(1 1.07)" font-size="19.44" text-anchor="end">50</text>
<line x1="74.5" y1="644.60" x2="79.4" y2="644.60" stroke="#000" stroke-width="1.15"/>
<text transform="translate(69.60 651.60) scale(1 1.07)" font-size="19.44" text-anchor="end">60</text>
<line x1="137.40" y1="1049.2" x2="137.40" y2="1054.1000000000001" stroke="#000" stroke-width="1.15"/>
<text transform="translate(135.90 1097.00) rotate(-45) translate(0 7.0) scale(1 1.07)" font-size="19.44" text-anchor="middle">01-01-2003</text>
<line x1="202.24" y1="1049.2" x2="202.24" y2="1054.1000000000001" stroke="#000" stroke-width="1.15"/>
<text transform="translate(200.74 1097.00) rotate(-45) translate(0 7.0) scale(1 1.07)" font-size="19.44" text-anchor="middle">01-01-2004</text>
<line x1="267.26" y1="1049.2" x2="267.26" y2="1054.1000000000001" stroke="#000" stroke-width="1.15"/>
<text transform="translate(265.76 1097.00) rotate(-45) translate(0 7.0) scale(1 1.07)" font-size="19.44" text-anchor="middle">01-01-2005</text>
<line x1="332.10" y1="1049.2" x2="332.10" y2="1054.1000000000001" stroke="#000" stroke-width="1.15"/>
<text transform="translate(330.60 1097.00) rotate(-45) translate(0 7.0) scale(1 1.07)" font-size="19.44" text-anchor="middle">01-01-2006</text>
<line x1="396.94" y1="1049.2" x2="396.94" y2="1054.1000000000001" stroke="#000" stroke-width="1.15"/>
<text transform="translate(395.44 1097.00) rotate(-45) translate(0 7.0) scale(1 1.07)" font-size="19.44" text-anchor="middle">01-01-2007</text>
<line x1="461.78" y1="1049.2" x2="461.78" y2="1054.1000000000001" stroke="#000" stroke-width="1.15"/>
<text transform="translate(460.28 1097.00) rotate(-45) translate(0 7.0) scale(1 1.07)" font-size="19.44" text-anchor="middle">01-01-2008</text>
<line x1="526.80" y1="1049.2" x2="526.80" y2="1054.1000000000001" stroke="#000" stroke-width="1.15"/>
<text transform="translate(525.30 1097.00) rotate(-45) translate(0 7.0) scale(1 1.07)" font-size="19.44" text-anchor="middle">01-01-2009</text>
<line x1="591.64" y1="1049.2" x2="591.64" y2="1054.1000000000001" stroke="#000" stroke-width="1.15"/>
<text transform="translate(590.14 1097.00) rotate(-45) translate(0 7.0) scale(1 1.07)" font-size="19.44" text-anchor="middle">01-01-2010</text>
<line x1="656.48" y1="1049.2" x2="656.48" y2="1054.1000000000001" stroke="#000" stroke-width="1.15"/>
<text transform="translate(654.98 1097.00) rotate(-45) translate(0 7.0) scale(1 1.07)" font-size="19.44" text-anchor="middle">01-01-2011</text>
<line x1="721.32" y1="1049.2" x2="721.32" y2="1054.1000000000001" stroke="#000" stroke-width="1.15"/>
<text transform="translate(719.82 1097.00) rotate(-45) translate(0 7.0) scale(1 1.07)" font-size="19.44" text-anchor="middle">01-01-2012</text>
<line x1="786.34" y1="1049.2" x2="786.34" y2="1054.1000000000001" stroke="#000" stroke-width="1.15"/>
<text transform="translate(784.84 1097.00) rotate(-45) translate(0 7.0) scale(1 1.07)" font-size="19.44" text-anchor="middle">01-01-2013</text>
<line x1="851.18" y1="1049.2" x2="851.18" y2="1054.1000000000001" stroke="#000" stroke-width="1.15"/>
<text transform="translate(849.68 1097.00) rotate(-45) translate(0 7.0) scale(1 1.07)" font-size="19.44" text-anchor="middle">01-01-2014</text>
<line x1="916.02" y1="1049.2" x2="916.02" y2="1054.1000000000001" stroke="#000" stroke-width="1.15"/>
<text transform="translate(914.52 1097.00) rotate(-45) translate(0 7.0) scale(1 1.07)" font-size="19.44" text-anchor="middle">01-01-2015</text>
<line x1="980.86" y1="1049.2" x2="980.86" y2="1054.1000000000001" stroke="#000" stroke-width="1.15"/>
<text transform="translate(979.36 1097.00) rotate(-45) translate(0 7.0) scale(1 1.07)" font-size="19.44" text-anchor="middle">01-01-2016</text>
<line x1="1045.88" y1="1049.2" x2="1045.88" y2="1054.1000000000001" stroke="#000" stroke-width="1.15"/>
<text transform="translate(1044.38 1097.00) rotate(-45) translate(0 7.0) scale(1 1.07)" font-size="19.44" text-anchor="middle">01-01-2017</text>
<line x1="1110.72" y1="1049.2" x2="1110.72" y2="1054.1000000000001" stroke="#000" stroke-width="1.15"/>
<text transform="translate(1109.22 1097.00) rotate(-45) translate(0 7.0) scale(1 1.07)" font-size="19.44" text-anchor="middle">01-01-2018</text>
<line x1="1175.56" y1="1049.2" x2="1175.56" y2="1054.1000000000001" stroke="#000" stroke-width="1.15"/>
<text transform="translate(1174.06 1097.00) rotate(-45) translate(0 7.0) scale(1 1.07)" font-size="19.44" text-anchor="middle">01-01-2019</text>
<line x1="1240.40" y1="1049.2" x2="1240.40" y2="1054.1000000000001" stroke="#000" stroke-width="1.15"/>
<text transform="translate(1238.90 1097.00) rotate(-45) translate(0 7.0) scale(1 1.07)" font-size="19.44" text-anchor="middle">01-01-2020</text>
<line x1="1305.42" y1="1049.2" x2="1305.42" y2="1054.1000000000001" stroke="#000" stroke-width="1.15"/>
<text transform="translate(1303.92 1097.00) rotate(-45) translate(0 7.0) scale(1 1.07)" font-size="19.44" text-anchor="middle">01-01-2021</text>
<line x1="1370.26" y1="1049.2" x2="1370.26" y2="1054.1000000000001" stroke="#000" stroke-width="1.15"/>
<text transform="translate(1368.76 1097.00) rotate(-45) translate(0 7.0) scale(1 1.07)" font-size="19.44" text-anchor="middle">01-01-2022</text>
<line x1="1435.10" y1="1049.2" x2="1435.10" y2="1054.1000000000001" stroke="#000" stroke-width="1.15"/>
<text transform="translate(1433.60 1097.00) rotate(-45) translate(0 7.0) scale(1 1.07)" font-size="19.44" text-anchor="middle">01-01-2023</text>
<text transform="translate(787.4 1157.80) scale(1 1.07)" font-size="22.5" text-anchor="middle">Time (Weekly)</text>
<text transform="translate(39.5 835.85) rotate(-90) scale(1 1.07)" font-size="22.5" text-anchor="middle">Precipitation (mm)</text>
<clipPath id="c2"><rect x="79.4" y="1183.2" width="1416.0" height="426.70000000000005"/></clipPath>
<path d="M79.7,1409.6 L89.7,1385.9 L106.3,1330.1 L112.2,1379.9 L116.5,1420.3 L118.2,1398.9 L120.5,1352.6 L122.2,1356.2 L124.1,1353.8 L125.3,1403.7 L126.5,1389.4 L127.7,1402.5 L129.3,1429.8 L130.8,1384.7 L133.1,1391.8 L136.5,1472.5 L138.4,1377.6 L139.5,1398.9 L141.2,1379.9 L143.1,1249.4 L145.5,1400.1 L146.7,1366.9 L147.8,1385.9 L149.7,1359.7 L151.4,1273.1 L152.6,1358.6 L154.5,1388.2 L156.2,1271.9 L157.8,1220.9 L159.2,1305.1 L160.9,1280.2 L162.6,1270.7 L164.0,1406.0 L164.9,1362.1 L166.4,1404.9 L167.3,1358.6 L169.2,1377.6 L170.4,1293.3 L171.6,1366.9 L173.5,1366.9 L174.7,1377.6 L176.3,1423.8 L178.2,1385.9 L179.9,1327.7 L181.1,1275.5 L182.3,1394.2 L183.9,1376.4 L185.4,1338.4 L186.3,1415.5 L187.7,1371.6 L188.7,1398.9 L190.1,1441.7 L191.8,1375.2 L193.4,1400.1 L195.3,1401.3 L197.0,1212.6 L199.3,1427.4 L201.4,1486.8 L202.6,1332.4 L204.0,1438.1 L205.0,1421.5 L206.4,1484.4 L208.1,1465.4 L208.8,1387.0 L210.4,1385.9 L212.1,1320.6 L213.5,1217.3 L214.5,1294.5 L215.9,1294.5 L217.6,1269.5 L219.5,1384.7 L221.1,1341.9 L222.5,1239.9 L223.5,1445.2 L224.7,1299.2 L225.9,1369.2 L227.0,1306.3 L228.7,1257.7 L230.6,1450.0 L231.8,1351.4 L233.5,1332.4 L235.4,1318.2 L237.3,1356.2 L238.4,1408.4 L240.1,1347.9 L241.3,1404.9 L242.5,1391.8 L243.7,1396.5 L245.3,1432.2 L247.2,1396.5 L249.6,1370.4 L251.3,1311.1 L253.2,1465.4 L255.5,1444.0 L256.7,1425.0 L258.4,1379.9 L260.3,1472.5 L261.9,1254.1 L263.8,1485.6 L265.7,1447.6 L266.9,1485.6 L268.1,1402.5 L269.8,1492.7 L271.0,1446.4 L272.4,1504.6 L273.3,1261.2 L274.5,1370.4 L276.2,1460.6 L276.9,1299.2 L278.1,1442.8 L279.5,1353.8 L280.9,1290.9 L282.4,1429.8 L283.3,1270.7 L284.7,1389.4 L285.7,1281.4 L287.6,1311.1 L288.8,1363.3 L290.0,1459.5 L291.1,1254.1 L292.3,1243.4 L293.5,1249.4 L294.7,1237.5 L295.9,1321.8 L297.6,1326.5 L298.7,1417.9 L299.5,1346.7 L301.1,1489.1 L302.3,1357.4 L303.7,1390.6 L305.4,1384.7 L307.1,1387.0 L309.0,1387.0 L310.6,1277.8 L312.5,1387.0 L314.4,1479.6 L316.9,1415.5 L318.1,1402.5 L319.3,1427.4 L320.5,1447.6 L321.4,1301.6 L322.9,1427.4 L324.5,1502.2 L325.7,1463.0 L327.6,1385.9 L328.8,1498.6 L330.7,1512.9 L332.4,1252.9 L334.0,1427.4 L335.5,1505.7 L336.6,1429.8 L337.6,1485.6 L339.0,1379.9 L340.2,1315.8 L341.4,1358.6 L342.6,1311.1 L344.2,1381.1 L345.7,1296.8 L347.1,1365.7 L348.3,1391.8 L349.5,1442.8 L350.9,1299.2 L351.8,1276.7 L353.7,1332.4 L355.4,1250.5 L356.6,1285.0 L357.8,1403.7 L359.0,1286.1 L360.4,1427.4 L362.0,1315.8 L363.7,1387.0 L365.1,1409.6 L366.1,1379.9 L368.0,1387.0 L369.2,1384.7 L370.4,1210.2 L371.5,1409.6 L373.2,1398.9 L374.6,1478.4 L375.6,1409.6 L377.9,1382.3 L379.1,1391.8 L380.6,1273.1 L382.2,1379.9 L384.1,1409.6 L385.8,1428.6 L387.0,1351.4 L388.2,1482.0 L390.1,1483.2 L391.2,1406.0 L392.2,1333.6 L393.6,1487.9 L394.6,1441.7 L395.5,1463.0 L396.5,1505.7 L397.7,1415.5 L399.3,1455.9 L401.2,1404.9 L402.4,1249.4 L403.6,1379.9 L406.0,1391.8 L407.1,1393.0 L408.3,1372.8 L408.8,1464.2 L410.2,1302.8 L411.9,1294.5 L413.1,1332.4 L415.0,1244.6 L416.6,1325.3 L417.4,1206.6 L418.3,1412.0 L419.7,1313.5 L421.4,1280.2 L423.1,1289.7 L424.2,1384.7 L426.1,1324.1 L427.8,1358.6 L429.0,1235.1 L430.4,1356.2 L430.3,1356.2 L432.2,1355.0 L433.6,1370.4 L434.6,1486.8 L436.0,1400.1 L437.7,1401.3 L438.9,1382.3 L440.1,1264.8 L441.2,1382.3 L443.1,1389.4 L444.1,1403.7 L446.0,1383.5 L446.7,1455.9 L447.9,1434.5 L449.1,1467.8 L450.3,1427.4 L451.5,1301.6 L452.6,1486.8 L455.0,1503.4 L456.2,1358.6 L457.4,1448.8 L458.6,1400.1 L459.8,1450.0 L460.7,1401.3 L461.7,1439.3 L462.6,1382.3 L463.8,1439.3 L464.5,1427.4 L466.2,1490.3 L467.8,1279.0 L469.3,1384.7 L470.4,1409.6 L471.6,1360.9 L473.5,1420.3 L475.0,1306.3 L476.4,1370.4 L477.3,1516.4 L478.0,1333.6 L479.7,1244.6 L481.1,1237.5 L482.3,1268.3 L483.5,1298.0 L485.2,1275.5 L487.5,1254.1 L488.7,1332.4 L490.1,1384.7 L491.6,1338.4 L492.5,1384.7 L493.7,1452.3 L494.7,1275.5 L495.8,1356.2 L497.3,1363.3 L498.2,1396.5 L499.4,1385.9 L501.1,1438.1 L502.5,1379.9 L504.9,1370.4 L506.1,1372.8 L507.7,1398.9 L509.1,1425.0 L510.3,1324.1 L512.0,1432.2 L513.4,1448.8 L514.8,1436.9 L516.7,1391.8 L518.4,1427.4 L519.6,1457.1 L521.5,1288.5 L523.1,1413.2 L525.5,1464.2 L527.4,1277.8 L529.6,1412.0 L531.0,1398.9 L532.4,1313.5 L533.8,1435.7 L535.7,1332.4 L537.6,1365.7 L539.1,1356.2 L541.0,1266.0 L542.6,1244.6 L544.0,1266.0 L545.2,1244.6 L546.4,1228.0 L546.8,1228.0 L547.7,1451.1 L550.1,1285.0 L552.0,1283.8 L553.7,1257.7 L554.4,1344.3 L556.1,1277.8 L557.2,1341.9 L559.1,1383.5 L560.3,1445.2 L560.8,1355.0 L562.0,1356.2 L563.2,1383.5 L565.1,1296.8 L566.7,1341.9 L568.6,1383.5 L570.3,1322.9 L571.5,1419.1 L572.7,1360.9 L573.9,1377.6 L575.8,1378.7 L577.4,1403.7 L579.3,1426.2 L581.0,1281.4 L582.2,1408.4 L583.8,1491.5 L585.7,1508.1 L587.4,1391.8 L588.6,1436.9 L590.5,1503.4 L591.7,1322.9 L592.9,1470.1 L594.0,1467.8 L595.7,1464.2 L597.6,1376.4 L599.5,1412.0 L600.9,1337.2 L602.4,1256.5 L604.3,1334.8 L605.9,1260.0 L607.1,1457.1 L609.0,1332.4 L610.7,1285.0 L611.8,1225.6 L613.5,1362.1 L615.4,1222.0 L617.1,1247.0 L618.5,1247.0 L619.7,1503.4 L621.3,1336.0 L623.2,1345.5 L624.4,1313.5 L626.1,1334.8 L628.0,1385.9 L628.9,1355.0 L630.4,1427.4 L631.3,1384.7 L632.7,1376.4 L633.7,1394.2 L635.6,1384.7 L637.5,1387.0 L639.1,1384.7 L640.3,1229.2 L642.2,1391.8 L643.9,1412.0 L645.8,1402.5 L647.0,1406.0 L648.6,1451.1 L651.0,1260.0 L652.2,1522.4 L653.9,1556.8 L655.8,1455.9 L657.2,1387.0 L658.9,1502.2 L660.5,1439.3 L661.7,1231.5 L662.3,1231.5 L664.2,1432.2 L665.4,1347.9 L666.6,1496.3 L667.5,1346.7 L669.0,1330.1 L670.2,1339.6 L671.3,1288.5 L672.8,1334.8 L674.9,1254.1 L676.8,1266.0 L679.2,1390.6 L680.4,1249.4 L682.3,1239.9 L683.5,1308.7 L684.6,1332.4 L687.0,1344.3 L688.2,1419.1 L688.7,1312.3 L690.3,1410.8 L692.2,1358.6 L694.1,1364.5 L695.8,1370.4 L698.2,1387.0 L699.8,1257.7 L701.7,1379.9 L703.4,1451.1 L704.6,1534.2 L706.0,1389.4 L707.7,1390.6 L708.9,1458.3 L710.8,1249.4 L712.4,1403.7 L713.6,1451.1 L714.8,1394.2 L717.2,1391.8 L718.4,1453.5 L720.0,1450.0 L721.9,1375.2 L723.1,1458.3 L725.0,1466.6 L725.9,1451.1 L727.1,1245.8 L728.3,1398.9 L730.2,1352.6 L731.9,1356.2 L733.5,1415.5 L735.0,1315.8 L736.9,1280.2 L739.7,1249.4 L741.6,1280.2 L742.8,1280.2 L744.0,1419.1 L745.7,1257.7 L747.3,1256.5 L748.5,1407.2 L750.4,1353.8 L752.1,1315.8 L754.0,1276.7 L755.9,1344.3 L757.0,1382.3 L758.7,1383.5 L760.6,1375.2 L762.3,1393.0 L764.6,1239.9 L765.1,1517.6 L766.3,1391.8 L768.2,1412.0 L770.1,1387.0 L771.8,1377.6 L773.4,1404.9 L774.9,1394.2 L776.0,1306.3 L778.2,1485.6 L778.3,1485.6 L779.7,1398.9 L780.9,1371.6 L782.6,1403.7 L784.5,1414.3 L786.4,1290.9 L788.1,1403.7 L789.7,1450.0 L791.6,1396.5 L793.0,1383.5 L794.5,1455.9 L795.9,1382.3 L797.6,1344.3 L799.2,1313.5 L800.6,1287.3 L801.6,1387.0 L803.0,1287.3 L804.0,1442.8 L805.2,1285.0 L806.3,1294.5 L807.3,1219.7 L808.5,1400.1 L809.4,1256.5 L810.6,1213.7 L811.8,1266.0 L813.0,1258.8 L814.2,1322.9 L815.4,1370.4 L817.3,1370.4 L818.4,1503.4 L819.6,1387.0 L821.3,1396.5 L822.5,1394.2 L824.1,1292.1 L825.8,1370.4 L827.2,1410.8 L829.1,1393.0 L830.6,1384.7 L831.5,1512.9 L832.5,1394.2 L833.9,1419.1 L835.5,1363.3 L836.7,1394.2 L838.1,1423.8 L840.3,1321.8 L841.9,1453.5 L843.8,1417.9 L845.7,1391.8 L846.7,1388.2 L848.1,1510.5 L849.5,1444.0 L851.0,1461.8 L852.2,1396.5 L853.3,1473.7 L854.5,1421.5 L855.7,1459.5 L857.1,1226.8 L858.1,1346.7 L859.0,1480.8 L860.5,1340.8 L861.9,1435.7 L863.3,1417.9 L865.2,1344.3 L866.6,1264.8 L868.1,1394.2 L869.5,1308.7 L871.1,1214.9 L872.3,1251.7 L874.2,1243.4 L876.6,1219.7 L877.6,1518.8 L879.5,1313.5 L881.4,1308.7 L883.3,1262.4 L884.2,1346.7 L886.6,1356.2 L888.5,1403.7 L889.9,1434.5 L891.3,1370.4 L893.0,1356.2 L894.2,1266.0 L896.2,1393.0 L897.6,1391.8 L899.3,1374.0 L900.0,1479.6 L901.2,1427.4 L902.9,1372.8 L904.1,1459.5 L905.2,1427.4 L906.4,1390.6 L907.6,1403.7 L908.8,1457.1 L910.5,1298.0 L911.9,1451.1 L912.8,1543.7 L914.3,1522.4 L915.5,1522.4 L916.6,1257.7 L917.8,1427.4 L919.0,1472.5 L920.2,1417.9 L921.4,1478.4 L923.0,1394.2 L924.2,1370.4 L925.4,1359.7 L926.6,1370.4 L928.5,1419.1 L929.5,1283.8 L930.9,1339.6 L931.8,1237.5 L933.3,1346.7 L934.9,1220.9 L936.1,1277.8 L937.3,1497.4 L938.5,1356.2 L940.1,1226.8 L942.0,1289.7 L943.7,1353.8 L945.6,1363.3 L947.3,1351.4 L948.5,1369.2 L949.9,1450.0 L950.4,1336.0 L951.5,1384.7 L952.7,1353.8 L954.1,1307.5 L955.6,1371.6 L957.5,1363.3 L959.1,1429.8 L960.8,1370.4 L962.2,1384.7 L963.6,1404.9 L965.1,1360.9 L966.5,1360.9 L968.4,1388.2 L970.5,1225.6 L972.2,1387.0 L974.1,1427.4 L975.0,1492.7 L976.0,1370.4 L977.4,1403.7 L979.3,1434.5 L981.2,1387.0 L983.1,1466.6 L985.0,1364.5 L986.7,1257.7 L988.3,1395.4 L990.2,1391.8 L991.7,1274.3 L993.1,1394.2 L995.0,1372.8 L995.9,1273.1 L996.9,1445.2 L997.4,1244.6 L998.3,1368.1 L999.7,1249.4 L1001.4,1296.8 L1003.8,1458.3 L1005.0,1220.9 L1006.1,1277.8 L1007.8,1255.3 L1010.2,1341.9 L1010.1,1313.5 L1012.9,1351.4 L1014.6,1464.2 L1015.8,1379.9 L1017.0,1377.6 L1018.4,1429.8 L1020.1,1394.2 L1021.7,1389.4 L1023.1,1370.4 L1024.8,1274.3 L1026.0,1396.5 L1027.9,1389.4 L1029.6,1396.5 L1031.2,1415.5 L1032.6,1446.4 L1033.8,1450.0 L1035.0,1448.8 L1035.5,1254.1 L1036.7,1458.3 L1038.3,1483.2 L1039.8,1451.1 L1041.4,1391.8 L1042.6,1427.4 L1044.3,1483.2 L1045.0,1470.1 L1046.2,1260.0 L1047.8,1450.0 L1049.7,1400.1 L1051.2,1469.0 L1052.1,1370.4 L1053.3,1379.9 L1054.5,1334.8 L1056.1,1289.7 L1058.0,1389.4 L1059.2,1327.7 L1060.4,1256.5 L1062.1,1344.3 L1063.3,1465.4 L1064.5,1226.8 L1066.4,1318.2 L1068.3,1308.7 L1069.7,1243.4 L1071.1,1266.0 L1072.3,1441.7 L1074.2,1466.6 L1075.8,1322.9 L1077.7,1360.9 L1078.9,1381.1 L1080.6,1372.8 L1082.5,1379.9 L1084.2,1222.0 L1085.3,1375.2 L1086.5,1408.4 L1087.7,1391.8 L1088.7,1474.9 L1090.1,1377.6 L1091.8,1382.3 L1092.9,1377.6 L1094.4,1277.8 L1095.8,1360.9 L1097.2,1377.6 L1098.9,1425.0 L1100.3,1432.2 L1101.3,1341.9 L1102.0,1476.1 L1103.9,1439.3 L1105.0,1455.9 L1105.8,1327.7 L1106.7,1451.1 L1107.9,1484.4 L1110.3,1477.3 L1111.9,1343.1 L1113.8,1379.9 L1115.5,1451.1 L1116.7,1279.0 L1118.1,1370.4 L1119.8,1318.2 L1121.4,1353.8 L1123.3,1428.6 L1124.5,1294.5 L1126.2,1268.3 L1128.9,1224.4 L1130.6,1249.4 L1132.0,1387.0 L1133.4,1379.9 L1134.4,1247.0 L1135.3,1249.4 L1136.5,1216.1 L1138.4,1396.5 L1139.6,1301.6 L1141.5,1377.6 L1143.2,1252.9 L1144.8,1356.2 L1146.7,1396.5 L1148.2,1374.0 L1148.6,1487.9 L1149.6,1356.2 L1151.0,1404.9 L1152.7,1387.0 L1153.9,1268.3 L1155.3,1379.9 L1156.2,1396.5 L1157.7,1379.9 L1159.1,1396.5 L1160.5,1457.1 L1161.5,1356.2 L1162.9,1341.9 L1164.1,1397.7 L1165.3,1314.6 L1166.9,1341.9 L1168.6,1439.3 L1170.5,1319.4 L1172.1,1505.7 L1173.6,1413.2 L1174.8,1510.5 L1175.7,1280.2 L1176.7,1484.4 L1178.3,1444.0 L1180.0,1552.0 L1181.2,1451.1 L1182.4,1384.7 L1184.3,1382.3 L1185.2,1351.4 L1186.6,1243.4 L1188.3,1334.8 L1189.9,1271.9 L1191.4,1403.7 L1193.0,1423.8 L1193.7,1250.5 L1195.4,1251.7 L1196.6,1201.9 L1198.0,1384.7 L1199.4,1223.2 L1201.3,1256.5 L1203.7,1263.6 L1205.6,1301.6 L1207.3,1514.1 L1208.9,1394.2 L1210.8,1324.1 L1212.7,1384.7 L1213.7,1261.2 L1215.1,1372.8 L1216.3,1379.9 L1218.0,1396.5 L1219.9,1382.3 L1220.3,1474.9 L1221.5,1370.4 L1223.2,1396.5 L1224.6,1267.2 L1226.3,1396.5 L1227.5,1432.2 L1229.4,1357.4 L1230.5,1439.3 L1232.2,1474.9 L1233.4,1483.2 L1234.6,1451.1 L1236.0,1382.3 L1237.0,1477.3 L1238.6,1451.1 L1239.8,1483.2 L1241.0,1287.3 L1242.2,1474.9 L1242.6,1474.9 L1244.2,1476.1 L1246.1,1372.8 L1247.3,1414.3 L1248.5,1379.9 L1249.7,1413.2 L1250.4,1377.6 L1251.3,1448.8 L1252.8,1356.2 L1254.4,1299.2 L1255.6,1296.8 L1256.8,1237.5 L1258.5,1244.6 L1259.9,1232.7 L1261.6,1247.0 L1263.2,1396.5 L1264.2,1285.0 L1265.6,1206.6 L1267.0,1503.4 L1268.0,1283.8 L1269.2,1360.9 L1270.3,1347.9 L1272.2,1353.8 L1273.9,1358.6 L1274.6,1497.4 L1275.8,1365.7 L1277.5,1360.9 L1278.9,1351.4 L1280.5,1398.9 L1282.2,1384.7 L1283.6,1359.7 L1285.3,1511.7 L1286.5,1382.3 L1287.7,1379.9 L1288.9,1450.0 L1290.0,1371.6 L1291.7,1371.6 L1293.6,1413.2 L1295.3,1226.8 L1296.7,1387.0 L1298.4,1441.7 L1299.8,1417.9 L1301.2,1391.8 L1303.1,1531.9 L1304.5,1470.1 L1305.5,1318.2 L1306.7,1455.9 L1307.8,1387.0 L1309.3,1469.0 L1310.7,1389.4 L1311.9,1372.8 L1313.3,1403.7 L1314.5,1398.9 L1316.2,1270.7 L1317.8,1299.2 L1319.2,1304.0 L1320.9,1270.7 L1321.6,1448.8 L1323.3,1327.7 L1324.5,1258.8 L1325.7,1235.1 L1326.8,1341.9 L1328.0,1311.1 L1330.4,1320.6 L1332.1,1304.0 L1333.5,1356.2 L1334.4,1460.6 L1335.1,1330.1 L1336.3,1366.9 L1338.2,1333.6 L1339.9,1358.6 L1341.8,1360.9 L1343.0,1477.3 L1343.5,1332.4 L1344.6,1455.9 L1345.8,1370.4 L1347.0,1394.2 L1348.7,1377.6 L1350.1,1349.1 L1351.1,1389.4 L1352.5,1387.0 L1354.4,1237.5 L1356.5,1391.8 L1358.2,1438.1 L1359.3,1389.4 L1360.9,1379.9 L1362.1,1396.5 L1363.3,1371.6 L1364.5,1483.2 L1365.2,1244.6 L1366.4,1427.4 L1368.1,1505.7 L1369.7,1427.4 L1371.1,1375.2 L1372.8,1489.1 L1374.5,1591.2 L1375.9,1427.4 L1376.4,1260.0 L1377.6,1427.4 L1379.2,1372.8 L1380.6,1450.0 L1381.6,1384.7 L1383.0,1308.7 L1384.7,1258.8 L1385.9,1242.2 L1387.0,1366.9 L1388.7,1282.6 L1390.1,1229.2 L1391.8,1285.0 L1393.0,1431.0 L1394.2,1232.7 L1395.4,1292.1 L1396.5,1289.7 L1397.7,1258.8 L1399.6,1341.9 L1400.8,1346.7 L1402.5,1438.1 L1403.2,1320.6 L1404.9,1425.0 L1406.0,1391.8 L1407.7,1383.5 L1409.1,1379.9 L1410.1,1417.9 L1412.0,1394.2 L1413.9,1207.8 L1415.5,1396.5 L1416.7,1410.8 L1418.4,1512.9 L1420.3,1385.9 L1422.2,1389.4 L1423.8,1472.5 L1424.6,1236.3 L1425.7,1472.5 L1427.4,1542.5 L1429.1,1427.4 L1430.5,1383.5 L1432.2,1472.5 L1433.8,1439.3 L1435.7,1345.5 L1436.9,1479.6 L1438.6,1486.8 L1439.5,1429.8 L1440.5,1499.8 L1442.1,1434.5 L1443.6,1356.2 L1445.2,1377.6 L1446.4,1325.3 L1448.1,1322.9 L1449.0,1415.5 L1450.4,1356.2 L1451.9,1327.7 L1453.5,1271.9 L1454.7,1292.1 L1456.6,1277.8 L1458.3,1280.2 L1459.9,1241.0 L1461.4,1249.4 L1461.8,1426.2 L1463.7,1332.4 L1464.9,1298.0 L1466.6,1346.7 L1468.2,1390.6 L1469.7,1365.7 L1471.3,1366.9 L1473.0,1266.0 L1474.4,1402.5 L1476.3,1387.0 L1477.9,1522.4 L1483.8,1275.5 L1485.0,1359.7 L1495.2,1258.8" fill="none" stroke="#2ca02c" stroke-width="2.7" stroke-linejoin="round" stroke-linecap="square" clip-path="url(#c2)"/>
<rect x="79.4" y="1183.2" width="1416.0" height="426.70000000000005" fill="none" stroke="#000" stroke-width="1.15"/>
<line x1="74.5" y1="1568.20" x2="79.4" y2="1568.20" stroke="#000" stroke-width="1.15"/>
<text transform="translate(69.60 1575.20) scale(1 1.07)" font-size="19.44" text-anchor="end">15.0</text>
<line x1="74.5" y1="1520.19" x2="79.4" y2="1520.19" stroke="#000" stroke-width="1.15"/>
<text transform="translate(69.60 1527.19) scale(1 1.07)" font-size="19.44" text-anchor="end">17.5</text>
<line x1="74.5" y1="1472.17" x2="79.4" y2="1472.17" stroke="#000" stroke-width="1.15"/>
<text transform="translate(69.60 1479.17) scale(1 1.07)" font-size="19.44" text-anchor="end">20.0</text>
<line x1="74.5" y1="1424.16" x2="79.4" y2="1424.16" stroke="#000" stroke-width="1.15"/>
<text transform="translate(69.60 1431.16) scale(1 1.07)" font-size="19.44" text-anchor="end">22.5</text>
<line x1="74.5" y1="1376.15" x2="79.4" y2="1376.15" stroke="#000" stroke-width="1.15"/>
<text transform="translate(69.60 1383.15) scale(1 1.07)" font-size="19.44" text-anchor="end">25.0</text>
<line x1="74.5" y1="1328.14" x2="79.4" y2="1328.14" stroke="#000" stroke-width="1.15"/>
<text transform="translate(69.60 1335.14) scale(1 1.07)" font-size="19.44" text-anchor="end">27.5</text>
<line x1="74.5" y1="1280.12" x2="79.4" y2="1280.12" stroke="#000" stroke-width="1.15"/>
<text transform="translate(69.60 1287.12) scale(1 1.07)" font-size="19.44" text-anchor="end">30.0</text>
<line x1="74.5" y1="1232.11" x2="79.4" y2="1232.11" stroke="#000" stroke-width="1.15"/>
<text transform="translate(69.60 1239.11) scale(1 1.07)" font-size="19.44" text-anchor="end">32.5</text>
<line x1="74.5" y1="1184.10" x2="79.4" y2="1184.10" stroke="#000" stroke-width="1.15"/>
<text transform="translate(69.60 1191.10) scale(1 1.07)" font-size="19.44" text-anchor="end">35.0</text>
<line x1="137.40" y1="1609.9" x2="137.40" y2="1614.8000000000002" stroke="#000" stroke-width="1.15"/>
<text transform="translate(135.90 1657.70) rotate(-45) translate(0 7.0) scale(1 1.07)" font-size="19.44" text-anchor="middle">01-01-2003</text>
<line x1="202.24" y1="1609.9" x2="202.24" y2="1614.8000000000002" stroke="#000" stroke-width="1.15"/>
<text transform="translate(200.74 1657.70) rotate(-45) translate(0 7.0) scale(1 1.07)" font-size="19.44" text-anchor="middle">01-01-2004</text>
<line x1="267.26" y1="1609.9" x2="267.26" y2="1614.8000000000002" stroke="#000" stroke-width="1.15"/>
<text transform="translate(265.76 1657.70) rotate(-45) translate(0 7.0) scale(1 1.07)" font-size="19.44" text-anchor="middle">01-01-2005</text>
<line x1="332.10" y1="1609.9" x2="332.10" y2="1614.8000000000002" stroke="#000" stroke-width="1.15"/>
<text transform="translate(330.60 1657.70) rotate(-45) translate(0 7.0) scale(1 1.07)" font-size="19.44" text-anchor="middle">01-01-2006</text>
<line x1="396.94" y1="1609.9" x2="396.94" y2="1614.8000000000002" stroke="#000" stroke-width="1.15"/>
<text transform="translate(395.44 1657.70) rotate(-45) translate(0 7.0) scale(1 1.07)" font-size="19.44" text-anchor="middle">01-01-2007</text>
<line x1="461.78" y1="1609.9" x2="461.78" y2="1614.8000000000002" stroke="#000" stroke-width="1.15"/>
<text transform="translate(460.28 1657.70) rotate(-45) translate(0 7.0) scale(1 1.07)" font-size="19.44" text-anchor="middle">01-01-2008</text>
<line x1="526.80" y1="1609.9" x2="526.80" y2="1614.8000000000002" stroke="#000" stroke-width="1.15"/>
<text transform="translate(525.30 1657.70) rotate(-45) translate(0 7.0) scale(1 1.07)" font-size="19.44" text-anchor="middle">01-01-2009</text>
<line x1="591.64" y1="1609.9" x2="591.64" y2="1614.8000000000002" stroke="#000" stroke-width="1.15"/>
<text transform="translate(590.14 1657.70) rotate(-45) translate(0 7.0) scale(1 1.07)" font-size="19.44" text-anchor="middle">01-01-2010</text>
<line x1="656.48" y1="1609.9" x2="656.48" y2="1614.8000000000002" stroke="#000" stroke-width="1.15"/>
<text transform="translate(654.98 1657.70) rotate(-45) translate(0 7.0) scale(1 1.07)" font-size="19.44" text-anchor="middle">01-01-2011</text>
<line x1="721.32" y1="1609.9" x2="721.32" y2="1614.8000000000002" stroke="#000" stroke-width="1.15"/>
<text transform="translate(719.82 1657.70) rotate(-45) translate(0 7.0) scale(1 1.07)" font-size="19.44" text-anchor="middle">01-01-2012</text>
<line x1="786.34" y1="1609.9" x2="786.34" y2="1614.8000000000002" stroke="#000" stroke-width="1.15"/>
<text transform="translate(784.84 1657.70) rotate(-45) translate(0 7.0) scale(1 1.07)" font-size="19.44" text-anchor="middle">01-01-2013</text>
<line x1="851.18" y1="1609.9" x2="851.18" y2="1614.8000000000002" stroke="#000" stroke-width="1.15"/>
<text transform="translate(849.68 1657.70) rotate(-45) translate(0 7.0) scale(1 1.07)" font-size="19.44" text-anchor="middle">01-01-2014</text>
<line x1="916.02" y1="1609.9" x2="916.02" y2="1614.8000000000002" stroke="#000" stroke-width="1.15"/>
<text transform="translate(914.52 1657.70) rotate(-45) translate(0 7.0) scale(1 1.07)" font-size="19.44" text-anchor="middle">01-01-2015</text>
<line x1="980.86" y1="1609.9" x2="980.86" y2="1614.8000000000002" stroke="#000" stroke-width="1.15"/>
<text transform="translate(979.36 1657.70) rotate(-45) translate(0 7.0) scale(1 1.07)" font-size="19.44" text-anchor="middle">01-01-2016</text>
<line x1="1045.88" y1="1609.9" x2="1045.88" y2="1614.8000000000002" stroke="#000" stroke-width="1.15"/>
<text transform="translate(1044.38 1657.70) rotate(-45) translate(0 7.0) scale(1 1.07)" font-size="19.44" text-anchor="middle">01-01-2017</text>
<line x1="1110.72" y1="1609.9" x2="1110.72" y2="1614.8000000000002" stroke="#000" stroke-width="1.15"/>
<text transform="translate(1109.22 1657.70) rotate(-45) translate(0 7.0) scale(1 1.07)" font-size="19.44" text-anchor="middle">01-01-2018</text>
<line x1="1175.56" y1="1609.9" x2="1175.56" y2="1614.8000000000002" stroke="#000" stroke-width="1.15"/>
<text transform="translate(1174.06 1657.70) rotate(-45) translate(0 7.0) scale(1 1.07)" font-size="19.44" text-anchor="middle">01-01-2019</text>
<line x1="1240.40" y1="1609.9" x2="1240.40" y2="1614.8000000000002" stroke="#000" stroke-width="1.15"/>
<text transform="translate(1238.90 1657.70) rotate(-45) translate(0 7.0) scale(1 1.07)" font-size="19.44" text-anchor="middle">01-01-2020</text>
<line x1="1305.42" y1="1609.9" x2="1305.42" y2="1614.8000000000002" stroke="#000" stroke-width="1.15"/>
<text transform="translate(1303.92 1657.70) rotate(-45) translate(0 7.0) scale(1 1.07)" font-size="19.44" text-anchor="middle">01-01-2021</text>
<line x1="1370.26" y1="1609.9" x2="1370.26" y2="1614.8000000000002" stroke="#000" stroke-width="1.15"/>
<text transform="translate(1368.76 1657.70) rotate(-45) translate(0 7.0) scale(1 1.07)" font-size="19.44" text-anchor="middle">01-01-2022</text>
<line x1="1435.10" y1="1609.9" x2="1435.10" y2="1614.8000000000002" stroke="#000" stroke-width="1.15"/>
<text transform="translate(1433.60 1657.70) rotate(-45) translate(0 7.0) scale(1 1.07)" font-size="19.44" text-anchor="middle">01-01-2023</text>
<text transform="translate(787.4 1718.50) scale(1 1.07)" font-size="22.5" text-anchor="middle">Time (Weekly)</text>
<text transform="translate(24.3 1396.55) rotate(-90) scale(1 1.07)" font-size="22.5" text-anchor="middle">Temperature (°C)</text>
</svg></body></html>
